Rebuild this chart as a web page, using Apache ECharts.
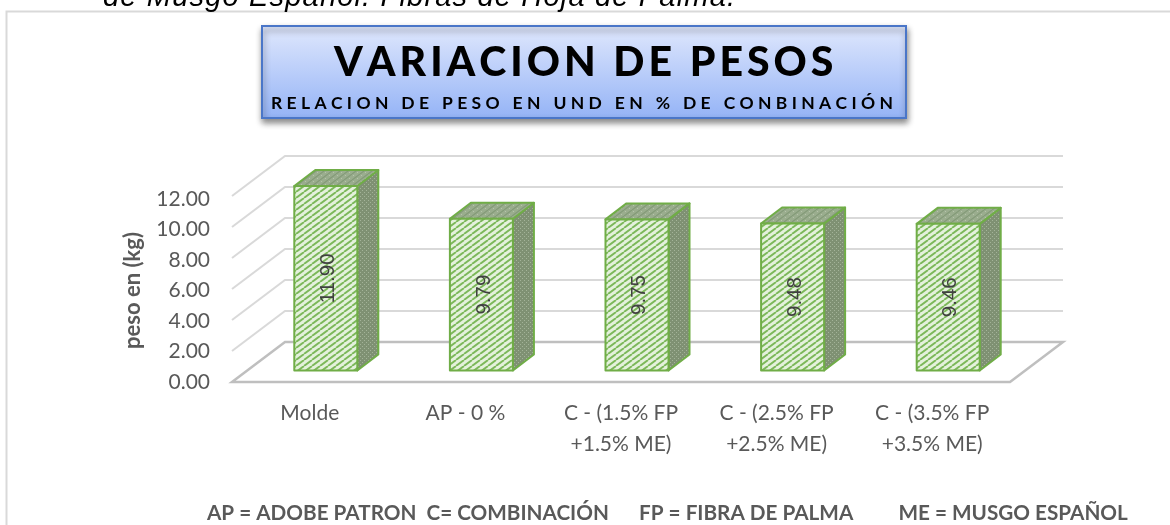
<!DOCTYPE html>
<html><head><meta charset="utf-8">
<style>html,body{margin:0;padding:0;background:#fff}#c{width:1170px;height:525px}</style>
<script src="https://cdn.jsdelivr.net/npm/echarts@6/dist/echarts.min.js"></script>
</head><body><div id="c"></div>
<script>
const categories = ['Molde','AP - 0 %','C - (1.5% FP\n+1.5% ME)','C - (2.5% FP\n+2.5% ME)','C - (3.5% FP\n+3.5% ME)'];
const pesos = [11.90, 9.79, 9.75, 9.48, 9.46];
const yTicks = [2,4,6,8,10,12];
const titleText = 'VARIACION DE PESOS';
const subText = 'RELACION DE PESO EN UND EN % DE CONBINACIÓN';
const yName = 'peso en (kg)';
const footer = 'AP = ADOBE PATRON  C= COMBINACIÓN      FP = FIBRA DE PALMA         ME = MUSGO ESPAÑOL';
const clipped = 'de Musgo Español. Fibras de Hoja de Palma.';

const titleFont='900 41px Lato', subFont='700 17.5px Lato', clipFont='italic 29px "Liberation Sans"';
// letter spacing, fitted to the width each spaced string has in the reference
const mc=document.createElement('canvas').getContext('2d');
function fit(t,f,target){mc.font=f;return (target-mc.measureText(t).width)/(t.length-1);}
const spacing={[titleText]:[titleFont,496],[subText]:[subFont,621],[clipped]:[clipFont,632]};
const P=CanvasRenderingContext2D.prototype,origFill=P.fillText;
P.fillText=function(t,x,y,m){
  const sp=spacing[t];
  if(!sp){return m===undefined?origFill.call(this,t,x,y):origFill.call(this,t,x,y,m);}
  const s=fit(t,sp[0],sp[1]);let cx=x;
  for(const ch of t){origFill.call(this,ch,cx,y);cx+=this.measureText(ch).width+s;}
};

function pat(w,h,draw){const c=document.createElement('canvas');c.width=w;c.height=h;draw(c.getContext('2d'),w,h);return {image:c,repeat:'repeat'};}
const stripes = pat(8,6,(g,w,h)=>{g.fillStyle='#e4f1dc';g.fillRect(0,0,w,h);g.strokeStyle='#7cb85a';g.lineWidth=1.9;
  g.beginPath();for(let k=-w;k<=w;k+=w){g.moveTo(k,h);g.lineTo(k+w,0);}g.stroke();});
const dotsSide = pat(4,4,(g,w,h)=>{g.fillStyle='#7f9173';g.fillRect(0,0,w,h);g.fillStyle='#a3b398';g.fillRect(0,0,1,1);g.fillRect(2,2,1,1);});
const dotsTop = pat(8,6,(g,w,h)=>{g.fillStyle='#9aad8e';g.fillRect(0,0,w,h);g.strokeStyle='#849a78';g.lineWidth=1.2;
  g.beginPath();for(let k=-w;k<=w;k+=w){g.moveTo(k,h);g.lineTo(k+w,0);}g.stroke();
  g.fillStyle='#b6c4ab';g.fillRect(1,1,1,1);g.fillRect(5,4,1,1);});

const DX=53, DY=-40, BDX=21, BDY=-16, PX=16, PY=-11.5;
const chart = echarts.init(document.getElementById('c'));
chart.setOption({
  animation:false, backgroundColor:'#fff',
  title:[
    {text:titleText,left:334,top:42,padding:0,textStyle:{fontFamily:'Lato',fontWeight:900,fontSize:41,color:'#000'}},
    {text:subText,left:271,top:94,padding:0,textStyle:{fontFamily:'Lato',fontWeight:700,fontSize:17.5,color:'#000'}},
    {text:footer,left:207,top:503,padding:0,textStyle:{fontFamily:'Lato',fontWeight:700,fontSize:20.7,color:'#595959'}}
  ],
  graphic:[
    {type:'polyline',z:0,silent:true,shape:{points:[[6.5,525],[6.5,11.5],[1170,11.5]]},style:{stroke:'#d9d9d9',lineWidth:2,fill:null}},
    {type:'text',z:1,x:103,y:-17,style:{text:clipped,font:clipFont,fill:'#000'}},
    {type:'rect',z:1,shape:{x:262,y:26,width:644,height:92},style:{
      fill:new echarts.graphic.LinearGradient(0,0,0,1,[{offset:0,color:'#e0e8fd'},{offset:1,color:'#94b3f6'}]),
      stroke:'#4a76c8',lineWidth:2,shadowBlur:6,shadowOffsetX:1,shadowOffsetY:4,shadowColor:'rgba(0,0,0,0.45)'}}
  ],
  grid:[{left:232,top:196,width:778,height:186},{left:232,top:199,width:778,height:183}],
  xAxis:[
    {type:'category',gridIndex:0,data:categories,axisLine:{show:false},axisTick:{show:false},
     axisLabel:{fontFamily:'Lato',fontSize:21,color:'#595959',margin:16,lineHeight:31,interval:0}},
    {type:'category',gridIndex:1,data:categories,show:false}],
  yAxis:[
    {type:'value',gridIndex:0,min:0,max:12,interval:2,axisLine:{show:false},axisTick:{show:false},splitLine:{show:false},axisLabel:{show:false}},
    {type:'value',gridIndex:1,min:0,max:12,interval:2,name:yName,nameLocation:'middle',nameGap:88,
     nameTextStyle:{fontFamily:'Lato',fontWeight:700,fontSize:22,color:'#595959'},
     axisLine:{show:false},axisTick:{show:false},splitLine:{show:false},
     axisLabel:{fontFamily:'Lato',fontSize:21,color:'#595959',margin:22,padding:[3,0,0,0],formatter:v=>v.toFixed(2)}}],
  series:[
    {type:'custom',silent:true,z:1,clip:false,data:yTicks.map(v=>[0,v]),encode:{x:0,y:1},
     renderItem(p,api){const y=api.coord([0,api.value(1)])[1],cs=p.coordSys;
       return {type:'polyline',shape:{points:[[cs.x,y],[cs.x+DX,y+DY],[cs.x+cs.width+DX,y+DY]]},style:{stroke:'#d9d9d9',lineWidth:2,fill:null}};}},
    {type:'custom',silent:true,z:1,clip:false,data:[[0,0]],encode:{x:0,y:1},
     renderItem(p,api){const y=api.coord([0,0])[1],cs=p.coordSys,L=cs.x,R=cs.x+cs.width;
       return {type:'polygon',shape:{points:[[L,y],[L+DX,y+DY],[R+DX,y+DY],[R,y]]},style:{stroke:'#bfbfbf',lineWidth:2.5,fill:'#fff'}};}},
    {type:'custom',z:3,clip:false,data:pesos.map((v,i)=>[i,v]),encode:{x:0,y:1},
     renderItem(p,api){
       const i=api.value(0),v=api.value(1),c=api.coord([i,v]),b=api.coord([i,0]),w=api.size([1,0])[0]*0.405;
       const x0=c[0]+PX-w/2,x1=x0+w,yt=c[1]+PY,yb=b[1]+PY,ln={stroke:'#70ad47',lineWidth:2,lineJoin:'round'};
       return {type:'group',children:[
         {type:'polygon',shape:{points:[[x1,yt],[x1+BDX,yt+BDY],[x1+BDX,yb+BDY],[x1,yb]]},style:{fill:dotsSide,...ln}},
         {type:'polygon',shape:{points:[[x0,yt],[x0+BDX,yt+BDY],[x1+BDX,yt+BDY],[x1,yt]]},style:{fill:dotsTop,...ln}},
         {type:'rect',shape:{x:x0,y:yt,width:w,height:yb-yt},style:{fill:stripes,...ln}},
         {type:'text',x:(x0+x1)/2+2.5,y:(yt+yb)/2,rotation:Math.PI/2,style:{text:v.toFixed(2),x:0,y:0,align:'center',verticalAlign:'middle',font:'20.5px "Liberation Sans"',fill:'#404040'}}
       ]};}}
  ]
});
</script></body></html>
